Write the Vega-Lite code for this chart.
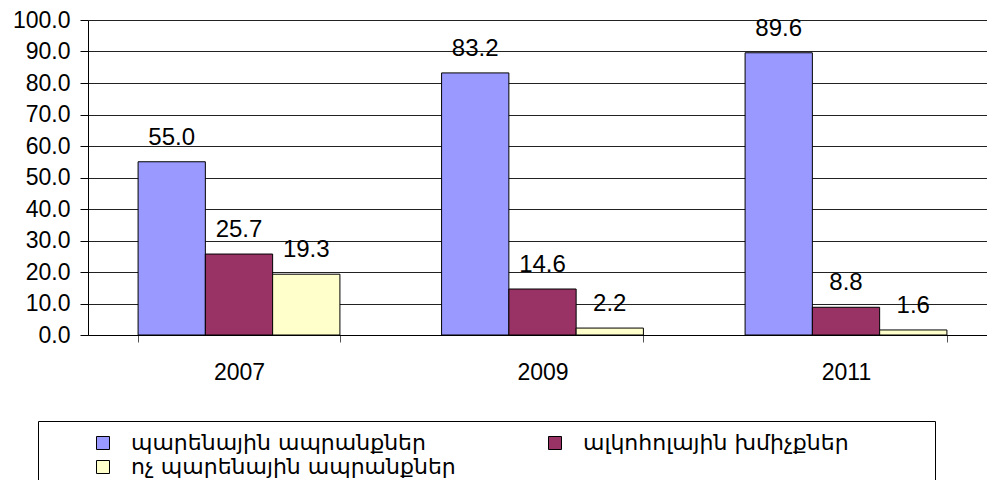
{
  "$schema": "https://vega.github.io/schema/vega-lite/v6.json",
  "width": 909,
  "height": 315,
  "autosize": "none",
  "padding": {"left": 88, "top": 20, "right": -10, "bottom": 145},
  "background": "white",
  "data": {
    "values": [
      {"year": "2007", "series": "պարենային ապրանքներ", "value": 55.0},
      {"year": "2007", "series": "ալկոհոլային խմիչքներ", "value": 25.7},
      {"year": "2007", "series": "ոչ պարենային ապրանքներ", "value": 19.3},
      {"year": "2009", "series": "պարենային ապրանքներ", "value": 83.2},
      {"year": "2009", "series": "ալկոհոլային խմիչքներ", "value": 14.6},
      {"year": "2009", "series": "ոչ պարենային ապրանքներ", "value": 2.2},
      {"year": "2011", "series": "պարենային ապրանքներ", "value": 89.6},
      {"year": "2011", "series": "ալկոհոլային խմիչքներ", "value": 8.8},
      {"year": "2011", "series": "ոչ պարենային ապրանքներ", "value": 1.6}
    ]
  },
  "encoding": {
    "x": {
      "field": "year",
      "type": "nominal",
      "scale": {"paddingInner": 0.335, "paddingOuter": 0.165},
      "axis": {
        "title": null,
        "labelAngle": 0,
        "labelFont": "Liberation Sans",
        "labelFontSize": 23,
        "labelColor": "black",
        "labelPadding": 19,
        "tickBand": "extent",
        "tickSize": 7,
        "tickColor": "#555",
        "domainColor": "black",
        "grid": false
      }
    },
    "xOffset": {
      "field": "series",
      "type": "nominal",
      "sort": ["պարենային ապրանքներ", "ալկոհոլային խմիչքներ", "ոչ պարենային ապրանքներ"]
    },
    "y": {
      "field": "value",
      "type": "quantitative",
      "scale": {"domain": [0, 100]},
      "axis": {
        "title": null,
        "values": [0, 10, 20, 30, 40, 50, 60, 70, 80, 90, 100],
        "format": ".1f",
        "labelFont": "Liberation Sans",
        "labelFontSize": 23,
        "labelColor": "black",
        "labelPadding": 10,
        "tickSize": 8,
        "tickColor": "black",
        "domainColor": "black",
        "grid": true,
        "gridColor": "#222",
        "gridWidth": 1
      }
    }
  },
  "layer": [
    {
      "mark": {"type": "bar", "stroke": "black", "strokeWidth": 1},
      "encoding": {
        "color": {
          "field": "series",
          "type": "nominal",
          "sort": ["պարենային ապրանքներ", "ալկոհոլային խմիչքներ", "ոչ պարենային ապրանքներ"],
          "scale": {
            "domain": ["պարենային ապրանքներ", "ալկոհոլային խմիչքներ", "ոչ պարենային ապրանքներ"],
            "range": ["#9999FF", "#993366", "#FFFFCC"]
          },
          "legend": {
            "title": "\u00a0",
            "titleOrient": "right",
            "titlePadding": 75,
            "titleFontSize": 10,
            "orient": "none",
            "legendX": -50,
            "legendY": 401,
            "direction": "horizontal",
            "columns": 2,
            "gridAlign": "all",
            "columnPadding": 45,
            "rowPadding": 2,
            "symbolType": "square",
            "symbolSize": 169,
            "symbolOffset": 43,
            "symbolStrokeColor": "black",
            "symbolStrokeWidth": 1,
            "labelFont": "DejaVu Sans",
            "labelFontSize": 22,
            "labelColor": "black",
            "labelOffset": 17,
            "labelLimit": 500,
            "strokeColor": "black",
            "fillColor": "white",
            "padding": 11,
            "offset": 0
          }
        }
      }
    },
    {
      "mark": {
        "type": "text",
        "baseline": "alphabetic",
        "dy": -17,
        "font": "Liberation Sans",
        "fontSize": 24,
        "color": "black"
      },
      "encoding": {
        "text": {"field": "value", "type": "quantitative", "format": ".1f"}
      }
    }
  ],
  "config": {"view": {"stroke": null}}
}
